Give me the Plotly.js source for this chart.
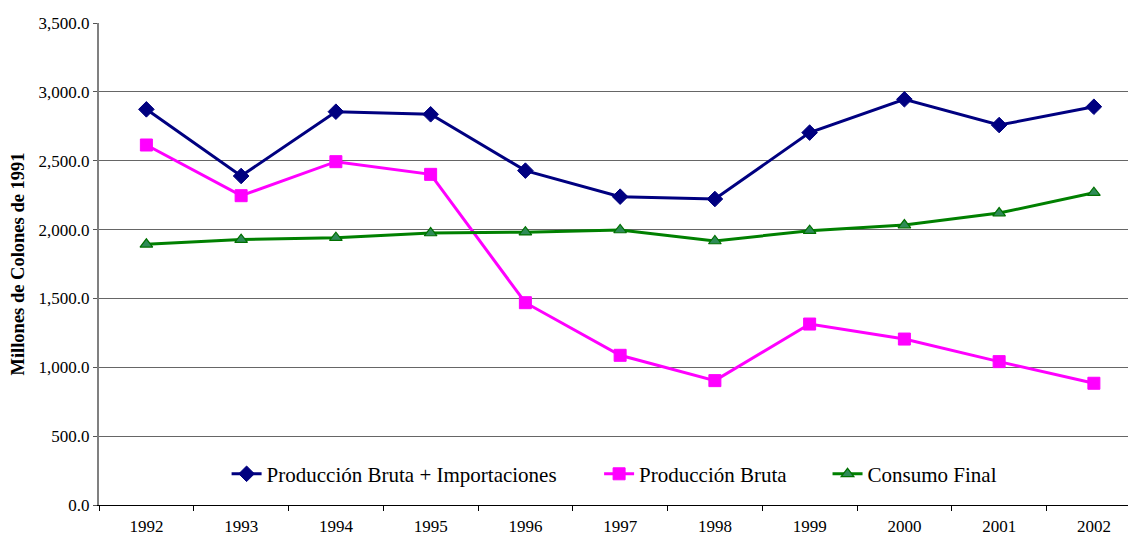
<!DOCTYPE html>
<html>
<head>
<meta charset="utf-8">
<script src="https://cdn.plot.ly/plotly-3.0.1.min.js"></script>
<style>
  html, body { margin: 0; padding: 0; background: #ffffff; }
  #chart { width: 1128px; height: 536px; }
</style>
</head>
<body>
<div id="chart"></div>
<script>
// Años de la serie
const years = ['1992', '1993', '1994', '1995', '1996', '1997', '1998', '1999', '2000', '2001', '2002'];

// Millones de colones de 1991
const produccionMasImportaciones = [2873, 2389, 2856, 2837, 2428, 2239, 2222, 2704, 2946, 2759, 2892];
const produccionBruta = [2614, 2246, 2493, 2401, 1469, 1087, 903, 1314, 1205, 1041, 884];
const consumoFinal = [1893, 1927, 1941, 1975, 1981, 1997, 1917, 1992, 2033, 2120, 2268];

const seriesNames = ['Producción Bruta + Importaciones', 'Producción Bruta', 'Consumo Final'];

const serif = '"Liberation Serif", "Times New Roman", serif';

const traces = [
  {
    x: years, y: produccionMasImportaciones, name: seriesNames[0],
    type: 'scatter', mode: 'lines+markers', legend: 'legend',
    line: { color: '#000080', width: 3 },
    marker: { symbol: 'diamond', size: 12, color: '#000080', line: { color: '#000080', width: 1 } }
  },
  {
    x: years, y: produccionBruta, name: seriesNames[1],
    type: 'scatter', mode: 'lines+markers', legend: 'legend2',
    line: { color: '#ff00ff', width: 3 },
    marker: { symbol: 'square', size: 12, color: '#ff00ff', line: { color: '#ff00ff', width: 1 } }
  },
  {
    x: years, y: consumoFinal, name: seriesNames[2],
    type: 'scatter', mode: 'lines+markers', legend: 'legend3',
    line: { color: '#008000', width: 3 },
    marker: { symbol: 'triangle-up', size: 11, color: '#2e8b57', line: { color: '#007000', width: 1.2 } }
  }
];

const legendBase = {
  orientation: 'h', yanchor: 'middle', xanchor: 'left', y: 0.064,
  bgcolor: 'rgba(0,0,0,0)', borderwidth: 0,
  font: { family: serif, size: 21, color: '#000000' }
};

const layout = {
  width: 1128, height: 536,
  margin: { l: 99, r: 0, t: 23, b: 31 },
  paper_bgcolor: '#ffffff', plot_bgcolor: '#ffffff',
  showlegend: true,
  legend: Object.assign({}, legendBase, { x: 0.124 }),
  legend2: Object.assign({}, legendBase, { x: 0.486 }),
  legend3: Object.assign({}, legendBase, { x: 0.708 }),
  xaxis: {
    type: 'category',
    range: [-0.5, 10.36],
    tickson: 'boundaries',
    ticks: 'outside', ticklen: 5, tickwidth: 1, tickcolor: '#000000',
    ticklabelstandoff: 6,
    showline: true, linecolor: '#000000', linewidth: 1,
    showgrid: false, zeroline: false,
    tickfont: { family: serif, size: 17, color: '#000000' },
    fixedrange: true
  },
  yaxis: {
    range: [0, 3500],
    dtick: 500, tick0: 0,
    tickformat: ',.1f',
    ticks: 'outside', ticklen: 4, tickwidth: 1, tickcolor: '#555555',
    showline: true, linecolor: '#808080', linewidth: 2,
    showgrid: true, gridcolor: '#666666', gridwidth: 1,
    zeroline: false,
    tickfont: { family: serif, size: 17, color: '#000000' },
    title: {
      text: '<b>Millones de Colones de 1991</b>',
      font: { family: serif, size: 18.5, color: '#000000' },
      standoff: 9
    },
    fixedrange: true
  }
};

Plotly.newPlot('chart', traces, layout, { displayModeBar: false, staticPlot: true });
</script>
</body>
</html>
